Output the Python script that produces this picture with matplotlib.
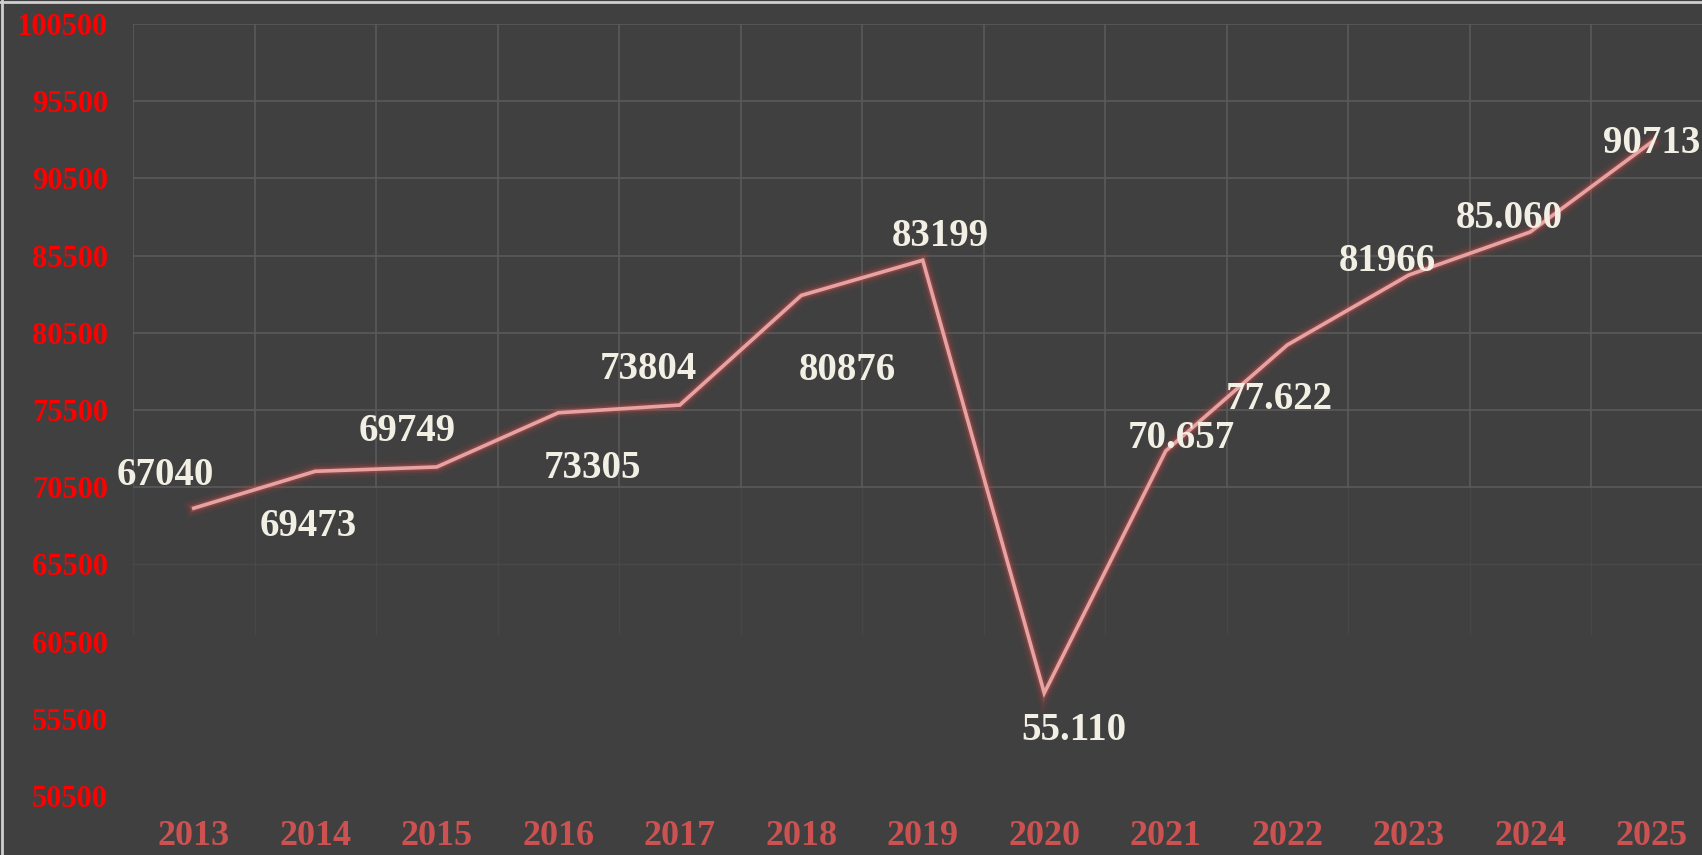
import matplotlib
matplotlib.use("Agg")
import matplotlib.pyplot as plt
import matplotlib.patheffects as pe
from matplotlib.lines import Line2D

# ---- data ----
years = ["2013", "2014", "2015", "2016", "2017", "2018", "2019",
         "2020", "2021", "2022", "2023", "2024", "2025"]
values = [69140, 71530, 71810, 75320, 75820, 82920, 85200,
          57170, 72850, 79710, 84240, 87030, 92860]
labels = ["67040", "69473", "69749", "73305", "73804", "80876", "83199",
          "55.110", "70.657", "77.622", "81966", "85.060", "90713"]
yticks = list(range(50500, 100501, 5000))

# label offsets in pixels (dx, dy)
offsets = [(-28, 33), (-7, -55), (-30, 35), (34, -56), (-31, 36), (46, -75),
           (18, 24), (30, -37), (16, 12), (-8, -55), (-21, 14), (-21, 13), (0, -2)]

BG = "#404040"
GRID = "#5a5a5a"
SERIF = ["Liberation Serif", "DejaVu Serif"]

fig = plt.figure(figsize=(17.02, 8.55), dpi=100, facecolor=BG)
ax = fig.add_axes([133 / 1702, 59 / 855, 13 * 121.5 / 1702, 772 / 855])
ax.set_facecolor(BG)
ax.set_xlim(-0.5, 12.5)
ax.set_ylim(50500, 100500)
for s in ax.spines.values():
    s.set_visible(False)

x = list(range(len(years)))

# grid (fading toward bottom)
for yv in yticks:
    if yv >= 70500:
        ax.axhline(yv, color=GRID, lw=1.2, zorder=1)
    elif yv >= 65500:
        ax.axhline(yv, color=GRID, lw=1.0, alpha=0.35, zorder=1)
for i in range(len(years) + 1):
    xv = i - 0.5
    ax.plot([xv, xv], [70500, 100500], color=GRID, lw=1.2, zorder=1)
    ax.plot([xv, xv], [61000, 70500], color=GRID, lw=1.0, alpha=0.3, zorder=1)

# line with glow
ax.plot(x, values, color="#E9A2A2", lw=2.6, zorder=3, solid_joinstyle="miter",
        path_effects=[pe.Stroke(linewidth=12, foreground="#b03a3a", alpha=0.10),
                      pe.Stroke(linewidth=8, foreground="#c04848", alpha=0.15),
                      pe.Stroke(linewidth=5, foreground="#d05a5a", alpha=0.30),
                      pe.Normal()])

# data labels
for xi, yi, lab, (dx, dy) in zip(x, values, labels, offsets):
    ax.annotate(lab, (xi, yi), xytext=(dx, dy), textcoords="offset pixels",
                ha="center", va="center", fontsize=28, fontweight="bold",
                family=SERIF, color="#F2EFE4", zorder=5)

# ticks
ax.set_xticks(x)
ax.set_xticklabels(years, fontsize=26, fontweight="bold", family=SERIF, color="#CC5252")
ax.set_yticks(yticks)
ax.set_yticklabels([str(v) for v in yticks], fontsize=22, fontweight="bold",
                   family=SERIF, color="#FF0000")
ax.tick_params(axis="both", length=0)
ax.tick_params(axis="y", pad=18)
ax.tick_params(axis="x", pad=17)

# light frame at top and left edges
fig.add_artist(Line2D([0, 1], [0.998, 0.998], transform=fig.transFigure, color="#cfcfcf", lw=2))
fig.add_artist(Line2D([0.001, 0.001], [0, 1], transform=fig.transFigure, color="#cfcfcf", lw=2))

fig.savefig("out.png", dpi=100, facecolor=BG)
